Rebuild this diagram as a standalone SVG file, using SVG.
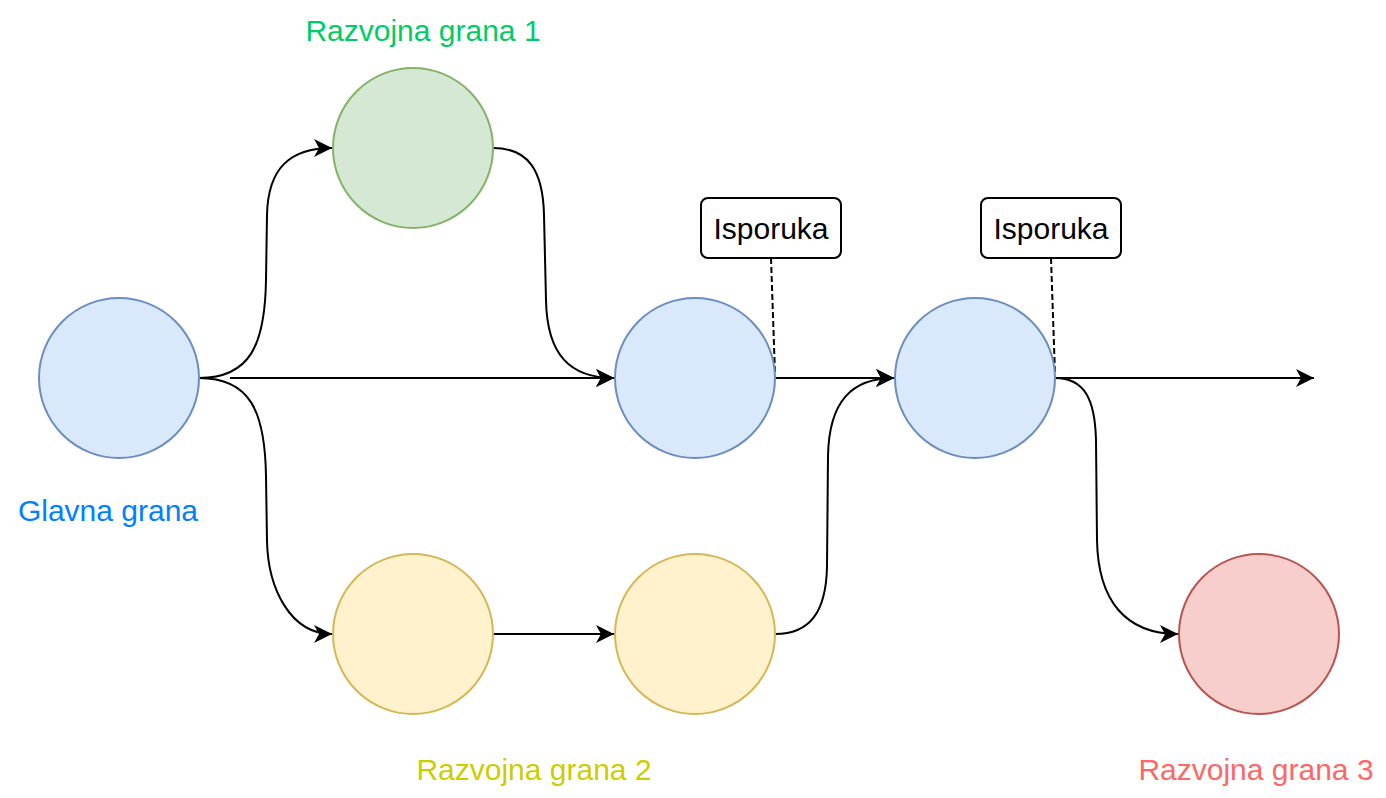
<svg xmlns="http://www.w3.org/2000/svg" width="1386" height="798" viewBox="0 0 1386 798">
<style>
  .blue{fill:#dae8fc;stroke:#6c8ebf;stroke-width:2}
  .green{fill:#d5e8d4;stroke:#82b366;stroke-width:2}
  .yellow{fill:#fff2cc;stroke:#d6b656;stroke-width:2}
  .red{fill:#f8cecc;stroke:#b85450;stroke-width:2}
  .edge{fill:none;stroke:#000;stroke-width:2;marker-end:url(#arr)}
  .dash{fill:none;stroke:#000;stroke-width:2;stroke-dasharray:6 3}
  .box{fill:#fff;stroke:#000;stroke-width:2}
  .t{font-family:"Liberation Sans",Arial,Helvetica,sans-serif;font-size:30px;text-anchor:middle}
</style>
<defs>
  <marker id="arr" markerUnits="userSpaceOnUse" markerWidth="22" markerHeight="22" viewBox="-20 -11 22 22" refX="0" refY="0" orient="auto">
    <path d="M0,0 L-18,-9 L-13,0 L-18,9 Z" fill="#000"/>
  </marker>
</defs>
<rect width="1386" height="798" fill="#fff"/>
<g id="connectors">
  <path class="edge" d="M199,378 C250,378 265,345 266,280 L267,215 C268,168 290,148 332,148"/>
  <path class="edge" d="M199,378 C250,378 265,411 266,476 L267,541 C268,588 290,634 332,634"/>
  <path class="edge" d="M230,378 L614,378"/>
  <path class="edge" d="M493,148 C528,148 543,170 544,215 L546,300 C547,355 570,378 614,378"/>
  <path class="edge" d="M493,634 L614,634"/>
  <path class="edge" d="M775,378 L894,378"/>
  <path class="edge" d="M775,634 C810,634 826,612 827,567 L828,456 C829,401 852,378 894,378"/>
  <path class="edge" d="M1055,378 C1085,378 1095,400 1096,440 L1097,540 C1098,600 1125,634 1178,634"/>
  <path class="edge" d="M1055,378 L1314,378"/>
  <path class="dash" d="M771,258 L775,374"/>
  <path class="dash" d="M1051,258 L1055,374"/>
</g>
<g id="main"><circle class="blue" cx="119" cy="378" r="80"/></g>
<g id="branch1"><circle class="green" cx="413" cy="148" r="80"/></g>
<g id="merge1"><circle class="blue" cx="695" cy="378" r="80"/></g>
<g id="merge2"><circle class="blue" cx="975" cy="378" r="80"/></g>
<g id="branch2a"><circle class="yellow" cx="413" cy="634" r="80"/></g>
<g id="branch2b"><circle class="yellow" cx="695" cy="634" r="80"/></g>
<g id="branch3"><circle class="red" cx="1259" cy="634" r="80"/></g>
<g id="release1"><rect class="box" x="701" y="198" width="140" height="60" rx="7"/><text class="t" x="771" y="239">Isporuka</text></g>
<g id="release2"><rect class="box" x="981" y="198" width="140" height="60" rx="7"/><text class="t" x="1051" y="239">Isporuka</text></g>
<g id="label-main"><text class="t" x="108" y="521" fill="#007fff">Glavna grana</text></g>
<g id="label-b1"><text class="t" x="423" y="41" fill="#00cc66">Razvojna grana 1</text></g>
<g id="label-b2"><text class="t" x="534" y="780" fill="#cccc00">Razvojna grana 2</text></g>
<g id="label-b3"><text class="t" x="1256" y="780" fill="#ff6666">Razvojna grana 3</text></g>
</svg>
